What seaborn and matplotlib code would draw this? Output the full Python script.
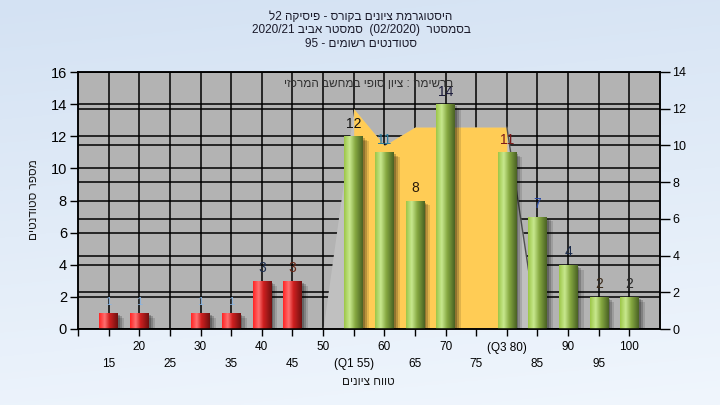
import re
import numpy as np
import pandas as pd
import matplotlib
matplotlib.use("Agg")
import matplotlib.pyplot as plt
import seaborn as sns
from matplotlib import patheffects as pe
from matplotlib.colors import LinearSegmentedColormap

# ---------------- data ----------------
categories = [15, 20, 25, 30, 35, 40, 45, 50, 55, 60, 65, 70, 75, 80, 85, 90, 95, 100]
counts = [1, 1, 0, 1, 1, 3, 3, 0, 12, 11, 8, 14, 0, 11, 7, 4, 2, 2]
tick_labels = ['15', '20', '25', '30', '35', '40', '45', '50', '(Q1 55)', '60',
               '65', '70', '75', '(Q3 80)', '85', '90', '95', '100']
pass_mark = 55
envelope_grades = [50, 55, 60, 65, 70, 75, 80, 85]
envelope_values = [0, 12, 10, 11, 11, 11, 11, 0]      # read on right axis
iqr_grades = [55, 60, 65, 70, 75, 80]
iqr_values = [12, 10, 11, 11, 11, 11]                 # read on right axis
left_ticks = list(range(0, 17, 2))
right_ticks = list(range(0, 15, 2))
title_lines = ['היסטוגרמת ציונים בקורס - פיסיקה 2ל',
               'בסמסטר  (02/2020)  סמסטר אביב 2020/21',
               'סטודנטים רשומים - 95']
note_text = 'ברשימה : ציון סופי במחשב המרכזי'
x_title = 'טווח ציונים'
y_title = 'מספר סטודנטים'

label_colors = ['#8ab4e0', '#8ab4e0', '#000000', '#8ab4e0', '#8ab4e0', '#1f2f4f', '#6a2a1a',
                '#000000', '#111111', '#2f7f9f', '#2a1a0a', '#1a1a3a', '#000000', '#7a1a1a',
                '#2a4aaa', '#1a2a4a', '#3a2a1a', '#2a2a2a']

# ---------------- helpers ----------------
MIRROR = {'(': ')', ')': '('}


def visual(s):
    runs = re.findall(r'[0-9A-Za-z][0-9A-Za-z/.]*[0-9A-Za-z]|[0-9A-Za-z]|[^0-9A-Za-z]+', s)
    out = []
    for r in reversed(runs):
        if re.match(r'[0-9A-Za-z]', r):
            out.append(r)
        else:
            out.append(''.join(MIRROR.get(c, c) for c in reversed(r)))
    return ''.join(out)


plt.rcParams['font.family'] = ['Liberation Sans', 'DejaVu Sans']

fig = plt.figure(figsize=(7.2, 4.05), dpi=100)

# background gradient
bg = fig.add_axes([0, 0, 1, 1], zorder=-10)
yy = np.linspace(0, 1, 200).reshape(-1, 1)
xx = np.linspace(0, 1, 200).reshape(1, -1)
top = np.array([212, 226, 243]) / 255
bot = np.array([240, 246, 253]) / 255
t = np.clip(yy * 0.85 + xx * 0.15, 0, 1)[..., None]
img = top * (1 - t) + bot * t
bg.imshow(img, extent=[0, 1, 0, 1], aspect='auto')
bg.axis('off')

L, R, B, T = 78 / 720, 660 / 720, (405 - 329) / 405, (405 - 72) / 405
ax = fig.add_axes([L, B, R - L, T - B])
ax.set_facecolor('#b3b3b3')
ax2 = ax.twinx()

n = len(categories)
pos = {c: i for i, c in enumerate(categories)}
ax.set_xlim(-1, n)
ax.set_ylim(0, 16)
ax2.set_ylim(0, 14)

# grid lines
ax.vlines(range(n), 0, 16, colors='black', lw=1.1, zorder=0.5)
ax.hlines(left_ticks, -1, n, colors='black', lw=1.1, zorder=0.5)
ax.hlines(right_ticks, -1, n, colors='black', lw=1.1, zorder=0.5, transform=ax2.transData)

# areas (right axis scale)
env_x = [pos[g] for g in envelope_grades]
iqr_x = [pos[g] for g in iqr_grades]
ax.fill_between(env_x, envelope_values, 0, color='#c0c0c0', lw=0, zorder=1,
                transform=ax2.transData)
ax.fill_between(iqr_x, iqr_values, 0, color='#ffcc55', lw=0, zorder=1.5,
                transform=ax2.transData)
ax.plot(env_x[-2:], envelope_values[-2:], color='#505050', lw=1, zorder=1.6,
        transform=ax2.transData)

# bars
df = pd.DataFrame({'grade': [str(c) for c in categories], 'count': counts,
                   'status': ['pass' if c >= pass_mark else 'fail' for c in categories]})
sns.barplot(data=df, x='grade', y='count', hue='status', order=df['grade'].tolist(),
            palette={'fail': '#e02020', 'pass': '#98c048'}, dodge=False, width=0.6,
            errorbar=None, legend=False, ax=ax)

red_cm = LinearSegmentedColormap.from_list('r', [(0, '#ff2424'), (0.3, '#ff7070'),
                                                 (0.55, '#d02020'), (1, '#701010')])
green_cm = LinearSegmentedColormap.from_list('g', [(0, '#9cc648'), (0.3, '#c8e88e'),
                                                   (0.6, '#86a840'), (1, '#4a6224')])
grad = np.linspace(0, 1, 64).reshape(1, -1)
shadow = [pe.SimplePatchShadow(offset=(1.5, -1.5), shadow_rgbFace='k', alpha=0.22),
          pe.SimplePatchShadow(offset=(3, -2.5), shadow_rgbFace='k', alpha=0.18),
          pe.SimplePatchShadow(offset=(4.5, -3.5), shadow_rgbFace='k', alpha=0.12),
          pe.Normal()]
for p in list(ax.patches):
    h = p.get_height()
    if h <= 0:
        continue
    x0, w = p.get_x(), p.get_width()
    idx = int(round(x0 + w / 2))
    cm = green_cm if categories[idx] >= pass_mark else red_cm
    p.set_zorder(3)
    p.set_linewidth(0)
    p.set_path_effects(shadow)
    im = ax.imshow(grad, cmap=cm, extent=[x0, x0 + w, 0, h], aspect='auto',
                   zorder=3.5, interpolation='bilinear')
    im.set_clip_path(p)

# value labels
for i, v in enumerate(counts):
    if v <= 0:
        continue
    ax.annotate(str(v), (i, v), xytext=(0, 4), textcoords='offset points',
                ha='center', va='bottom', fontsize=10 if v > 1 else 8,
                color=label_colors[i], zorder=6)

ax.text(0.5, 0.955, visual(note_text), transform=ax.transAxes, ha='center', va='center',
        fontsize=8.5, color='#303030', zorder=7)

ax.set_xlim(-1, n)
ax.set_ylim(0, 16)
ax2.set_ylim(0, 14)

# ticks
ax.set_yticks(left_ticks)
ax.tick_params(axis='y', length=6, width=1, pad=2, labelsize=10.5, colors='black')
ax2.set_yticks(right_ticks)
ax2.tick_params(axis='y', length=7, width=1, pad=2, labelsize=9, colors='black')
major = [i for i in range(n) if i % 2 == 1]
minor = [-1] + [i for i in range(n) if i % 2 == 0]
ax.set_xticks(major, [tick_labels[i] for i in major])
ax.set_xticks(minor, [''] + [tick_labels[i] for i in minor if i >= 0], minor=True)
ax.tick_params(axis='x', which='major', length=5, width=1, pad=4, labelsize=8.5)
ax.tick_params(axis='x', which='minor', length=5, width=1, pad=16, labelsize=8.5)
ax.set_xlabel('')
ax.set_ylabel('')
for a in (ax, ax2):
    for s in a.spines.values():
        s.set_color('black')
        s.set_linewidth(1.1)

# titles
for k, line in enumerate(title_lines):
    fig.text(361 / 720, 1 - (17 + 13.5 * k) / 405, visual(line), ha='center', va='center',
             fontsize=8.5, color='#1a1a2a')
fig.text(368 / 720, 1 - 382 / 405, visual(x_title), ha='center', va='center',
         fontsize=8.5, color='#1a1a1a')
fig.text(34 / 720, 1 - 200 / 405, visual(y_title), ha='center', va='center',
         rotation=90, fontsize=8.5, color='#1a1a1a')

fig.savefig('out.png', dpi=100)
